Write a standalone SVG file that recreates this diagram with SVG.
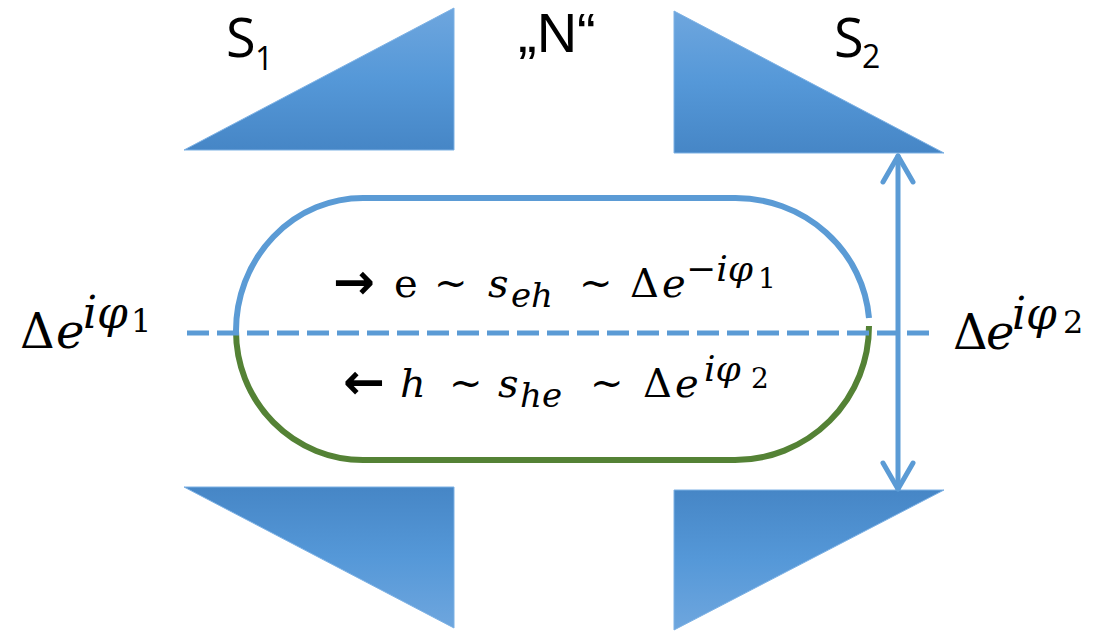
<svg xmlns="http://www.w3.org/2000/svg" width="1116" height="631" viewBox="0 0 1116 631">
<defs>
<linearGradient id="gDown" x1="0" y1="0" x2="0" y2="1">
<stop offset="0" stop-color="#6ea6de"/>
<stop offset="0.5" stop-color="#5598d8"/>
<stop offset="1" stop-color="#4686c6"/>
</linearGradient>
<linearGradient id="gUp" x1="0" y1="1" x2="0" y2="0">
<stop offset="0" stop-color="#6ea6de"/>
<stop offset="0.5" stop-color="#5598d8"/>
<stop offset="1" stop-color="#4686c6"/>
</linearGradient>
</defs>
<style>
.tri-top{fill:url(#gDown);stroke:#7db1e4;stroke-width:1}
.tri-bot{fill:url(#gUp);stroke:#7db1e4;stroke-width:1}
.lbl{font-family:"Open Sans","Liberation Sans",sans-serif;fill:#000}
.math{font-family:"DejaVu Serif","Liberation Serif",serif;fill:#000}
.arr{font-family:"DejaVu Sans","Liberation Sans",sans-serif;font-weight:bold}
.it{font-style:italic}
.blue{stroke:#5b9bd5;fill:none;stroke-width:6}
.green{stroke:#548235;fill:none;stroke-width:6}
.arrowline{stroke:#5b9bd5;stroke-width:5;fill:none;stroke-linecap:round;stroke-linejoin:round}
</style>

<g id="S1">
<polygon class="tri-top" points="184,150 454,150 454,8"/>
<text class="lbl" x="226" y="57" font-size="54">S<tspan font-size="32" x="255" y="70">1</tspan></text>
</g>
<g id="N">
<text x="518" y="52" font-size="56" font-family="Liberation Sans, Arial, sans-serif">„N“</text>
</g>
<g id="S2">
<polygon class="tri-top" points="674,11 674,153 944,153"/>
<text class="lbl" x="834" y="57" font-size="54">S<tspan font-size="32" x="862" y="68">2</tspan></text>
</g>
<g id="S1b">
<polygon class="tri-bot" points="184,487 454,487 454,628"/>
</g>
<g id="S2b">
<polygon class="tri-bot" points="674,490 944,490 674,630"/>
</g>

<g id="loop">
<path class="blue" d="M363,198 L735,198"/>
<path class="blue" d="M363,198 A127,133 0 0 0 236,331"/>
<path class="green" d="M236,331 A127,129 0 0 0 363,460"/>
<path class="green" d="M363,460 L735,460"/>
<path class="blue" d="M735,198 A134,131 0 0 1 869,318"/>
<path class="green" d="M869,326 A134,134 0 0 1 735,460"/>
</g>

<g id="connectors">
<line x1="187" y1="333" x2="935" y2="333" stroke="#5b9bd5" stroke-width="5" stroke-dasharray="22 8"/>
<path class="arrowline" d="M898,156 L898,489"/>
<path class="arrowline" d="M883,182 L898,156 L913,182"/>
<path class="arrowline" d="M883,463 L898,489 L913,463"/>
</g>

<g id="phase1">
<text class="math" font-size="48"><tspan x="20" y="348">Δ</tspan><tspan class="it" x="56" y="348">e</tspan><tspan class="it" font-size="44" x="83" y="328">iφ</tspan><tspan font-size="32" x="131" y="332">1</tspan></text>
</g>
<g id="phase2">
<text class="math" font-size="48"><tspan x="953" y="349">Δ</tspan><tspan class="it" x="986" y="349">e</tspan><tspan class="it" font-size="44" x="1012" y="329">iφ</tspan><tspan font-size="32" x="1063" y="333">2</tspan></text>
</g>

<g id="electron">
<text class="math" font-size="40"><tspan class="arr" font-size="50" x="333" y="299">→</tspan><tspan x="394" y="297">e</tspan><tspan font-size="40" x="434" y="296">~</tspan><tspan class="it" x="488" y="297">s</tspan><tspan class="it" font-size="34" x="511" y="307">eh</tspan><tspan font-size="40" x="579" y="296">~</tspan><tspan x="630" y="297">Δ</tspan><tspan class="it" x="662" y="297">e</tspan><tspan class="it" font-size="36" x="686" y="281">−iφ</tspan><tspan font-size="28" x="758" y="288">1</tspan></text>
</g>
<g id="hole">
<text class="math" font-size="40"><tspan class="arr" font-size="50" x="343" y="399">←</tspan><tspan class="it" x="400" y="397">h</tspan><tspan font-size="40" x="449" y="396">~</tspan><tspan class="it" x="498" y="397">s</tspan><tspan class="it" font-size="34" x="520" y="407">he</tspan><tspan font-size="40" x="590" y="396">~</tspan><tspan x="643" y="397">Δ</tspan><tspan class="it" x="675" y="397">e</tspan><tspan class="it" font-size="36" x="704" y="381">iφ</tspan><tspan font-size="28" x="751" y="388">2</tspan></text>
</g>
</svg>
